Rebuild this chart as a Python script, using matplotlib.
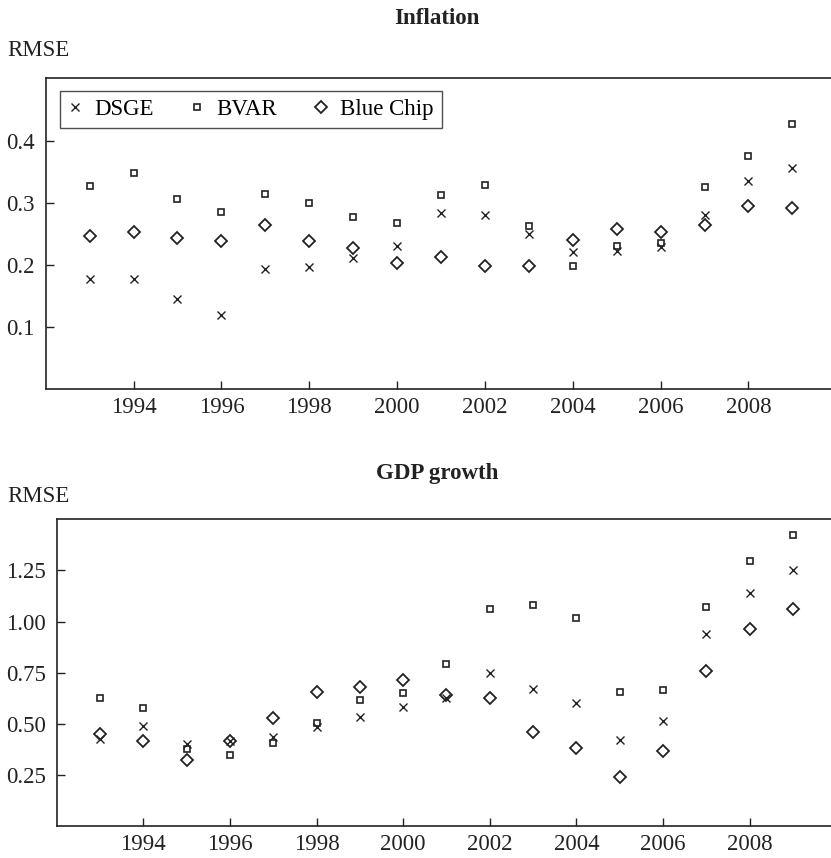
import numpy as np
import matplotlib
matplotlib.use("Agg")
import matplotlib.pyplot as plt
from matplotlib.ticker import FormatStrFormatter

plt.rcParams['font.family'] = ['Liberation Serif', 'DejaVu Serif']
plt.rcParams['font.size'] = 16

years = np.arange(1993, 2010)

# Inflation RMSE
infl_dsge = [0.177, 0.178, 0.145, 0.119, 0.193, 0.196, 0.211, 0.231, 0.284,
             0.280, 0.250, 0.221, 0.223, 0.229, 0.280, 0.335, 0.357]
infl_bvar = [0.327, 0.349, 0.306, 0.285, 0.315, 0.300, 0.278, 0.268, 0.313,
             0.329, 0.263, 0.198, 0.231, 0.235, 0.325, 0.375, 0.427]
infl_bc = [0.246, 0.254, 0.243, 0.239, 0.264, 0.239, 0.228, 0.204, 0.213,
           0.198, 0.198, 0.240, 0.258, 0.254, 0.264, 0.295, 0.292]

# GDP growth RMSE
gdp_dsge = [0.424, 0.489, 0.400, 0.416, 0.437, 0.483, 0.535, 0.581, 0.627,
            0.749, 0.670, 0.603, 0.421, 0.514, 0.939, 1.140, 1.254]
gdp_bvar = [0.625, 0.577, 0.377, 0.347, 0.405, 0.502, 0.616, 0.652, 0.791,
            1.063, 1.081, 1.016, 0.657, 0.665, 1.073, 1.295, 1.425]
gdp_bc = [0.450, 0.416, 0.321, 0.414, 0.530, 0.654, 0.682, 0.713, 0.641,
          0.628, 0.458, 0.383, 0.238, 0.368, 0.758, 0.962, 1.063]

labels = ["DSGE", "BVAR", "Blue Chip"]
xticks = np.arange(1994, 2009, 2)

col = '#222222'
W, H = 831, 858
fig = plt.figure(figsize=(W / 100, H / 100), dpi=100)


def panel(rect, series, ylim, yticks, fmt):
    ax = fig.add_axes(rect)
    styles = [dict(marker='x', ms=5.5, mew=1.0),
              dict(marker='s', ms=4.8, mew=1.2, mfc='none'),
              dict(marker='D', ms=6.3, mew=1.3, mfc='none')]
    for y, st, lab in zip(series, styles, labels):
        ax.plot(years, y, ls='none', color=col, mec=col, label=lab, **st)
    ax.set_xlim(1992, 2009.88)
    ax.set_ylim(*ylim)
    ax.set_xticks(xticks)
    ax.set_yticks(yticks)
    ax.yaxis.set_major_formatter(FormatStrFormatter(fmt))
    ax.spines['right'].set_visible(False)
    for s in ['left', 'top', 'bottom']:
        ax.spines[s].set_linewidth(1.2)
        ax.spines[s].set_color(col)
    ax.tick_params(direction='in', length=6, width=1.0, color=col,
                   labelcolor=col, labelsize=16.5)
    ax.tick_params(axis='y', pad=8)
    ax.tick_params(axis='x', pad=6)
    return ax


ax1 = panel([45.7 / W, 1 - 389 / H, 1 - 45.7 / W, 311 / H],
            [infl_dsge, infl_bvar, infl_bc], (0, 0.5016),
            [0.1, 0.2, 0.3, 0.4], '%.1f')
leg = ax1.legend(loc='upper left', bbox_to_anchor=(0.018, 0.958), ncol=3,
                 frameon=True, fancybox=False, borderaxespad=0,
                 handlelength=0.6, handletextpad=0.55, columnspacing=1.6,
                 borderpad=0.35, fontsize=16.5)
leg.get_frame().set_edgecolor(col)
leg.get_frame().set_linewidth(1.0)

ax2 = panel([56.7 / W, 1 - 826 / H, 1 - 56.7 / W, 306.7 / H],
            [gdp_dsge, gdp_bvar, gdp_bc], (0, 1.5),
            [0.25, 0.5, 0.75, 1.0, 1.25], '%.2f')

fig.text(437 / W, 1 - 18 / H, "Inflation", ha='center', va='center',
         fontweight='bold', color=col, fontsize=16.5)
fig.text(7 / W, 1 - 50 / H, "RMSE", ha='left', va='center', color=col,
         fontsize=16.5)
fig.text(437 / W, 1 - 474 / H, "GDP growth", ha='center', va='center',
         fontweight='bold', color=col, fontsize=16.5)
fig.text(7 / W, 1 - 497 / H, "RMSE", ha='left', va='center', color=col,
         fontsize=16.5)

fig.savefig("out.png", dpi=100)
